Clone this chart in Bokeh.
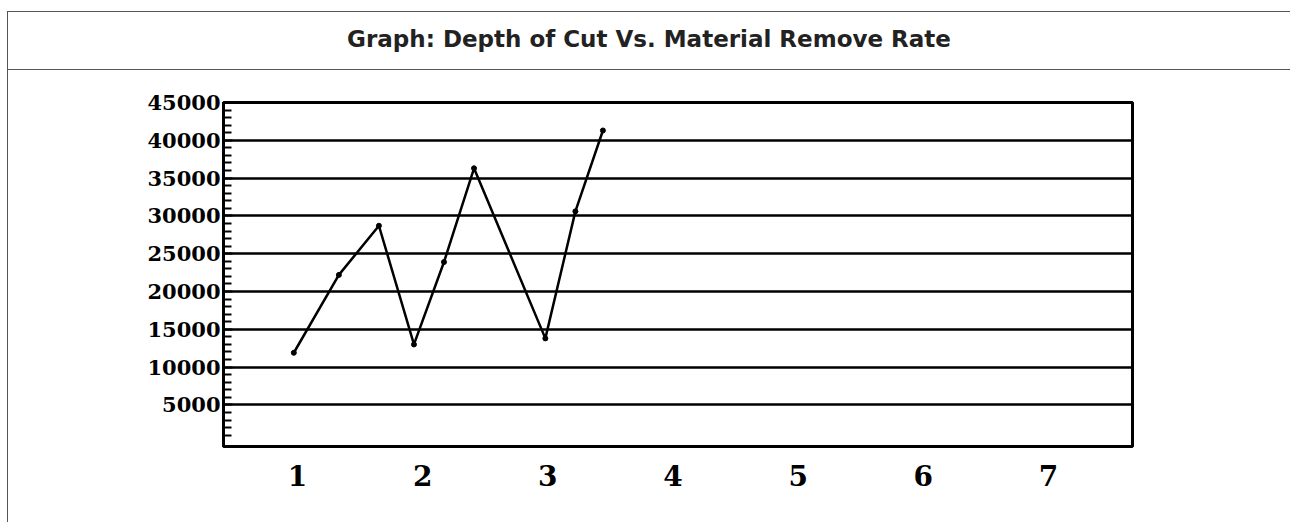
from bokeh.plotting import figure
from bokeh.models import Div, FixedTicker, Range1d
from bokeh.layouts import column
from bokeh.embed import file_html
from bokeh.resources import INLINE

# ---- data ----
title_text = "Graph: Depth of Cut Vs. Material Remove Rate"
depth_of_cut = [0.97, 1.33, 1.65, 1.93, 2.17, 2.41, 2.98, 3.22, 3.44]
material_removal_rate = [11900, 22200, 28700, 13000, 23900, 36300, 13800, 30600, 41300]
x_tick_values = [1, 2, 3, 4, 5, 6, 7]
y_tick_values = [5000, 10000, 15000, 20000, 25000, 30000, 35000, 40000, 45000]
grid_values = [5000, 10000, 15000, 20000, 25000, 30000, 35000, 40000]
y_minor_values = [v for v in range(1000, 45000, 1000) if v % 5000 != 0]

title_div = Div(
    text=(
        '<span style="font-family:\'DejaVu Sans\';font-weight:bold;'
        'font-size:23px;color:#222222;">' + title_text + "</span>"
    ),
    width=1282,
    height=58,
    margin=(0, 0, 0, 0),
    styles={
        "border-bottom": "1px solid #555555",
        "text-align": "center",
        "line-height": "54px",
        "box-sizing": "border-box",
    },
)

p = figure(
    width=1282,
    height=452,
    output_backend="svg",
    toolbar_location=None,
    x_range=Range1d(0.408, 7.672),
    y_range=Range1d(-500, 45000),
    min_border_left=215,
    min_border_right=158,
    min_border_top=32,
    min_border_bottom=76,
    background_fill_color="white",
    border_fill_color="white",
    margin=(0, 0, 0, 0),
)
p.outline_line_color = "black"
p.outline_line_width = 3
p.outline_line_alpha = 1

# grid
p.xgrid.visible = False
p.ygrid.ticker = FixedTicker(ticks=grid_values)
p.ygrid.grid_line_color = "black"
p.ygrid.grid_line_width = 2.5
p.ygrid.grid_line_alpha = 1

# y axis
ya = p.yaxis[0]
ya.ticker = FixedTicker(ticks=y_tick_values, minor_ticks=y_minor_values)
ya.axis_line_color = "black"
ya.axis_line_width = 3
ya.major_tick_in = 9
ya.major_tick_out = 0
ya.minor_tick_in = 8
ya.minor_tick_out = 0
ya.major_tick_line_width = 2
ya.minor_tick_line_width = 2
ya.major_tick_line_color = "black"
ya.minor_tick_line_color = "black"
ya.major_label_standoff = 3
ya.major_label_text_font = "DejaVu Serif"
ya.major_label_text_font_style = "bold"
ya.major_label_text_font_size = "21px"
ya.major_label_text_color = "black"

# x axis
xa = p.xaxis[0]
xa.ticker = FixedTicker(ticks=x_tick_values)
xa.axis_line_color = None
xa.major_tick_line_color = None
xa.minor_tick_line_color = None
xa.major_tick_in = 0
xa.major_tick_out = 0
xa.major_label_standoff = 18
xa.major_label_text_font = "DejaVu Serif"
xa.major_label_text_font_style = "bold"
xa.major_label_text_font_size = "28px"
xa.major_label_text_color = "black"

# data
p.line(depth_of_cut, material_removal_rate, line_color="black", line_width=2.5)
p.scatter(depth_of_cut, material_removal_rate, size=5, color="black")

layout = column(
    title_div,
    p,
    margin=(11, 0, 0, 7),
    styles={
        "border-top": "1px solid #555555",
        "border-left": "1px solid #555555",
    },
)

open("out.html", "w").write(file_html(layout, INLINE))
